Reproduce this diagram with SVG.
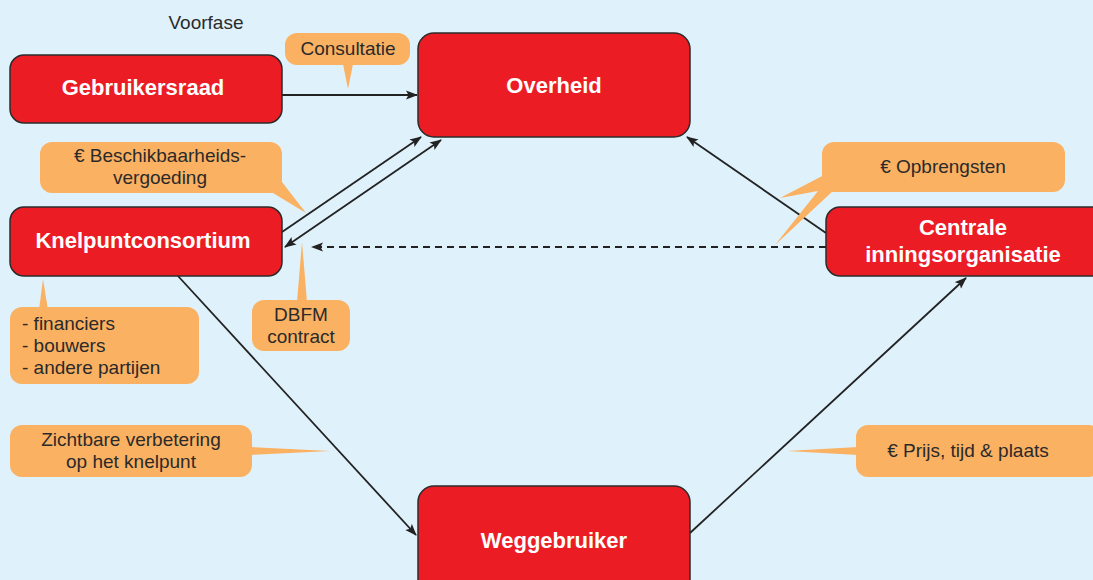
<svg xmlns="http://www.w3.org/2000/svg" width="1093" height="580" viewBox="0 0 1093 580">
<style>
.node{fill:#ec1c24;stroke:#2b2b2b;stroke-width:1.5}
.nt{font-family:"Liberation Sans",Arial,sans-serif;font-weight:bold;font-size:22px;fill:#fff;text-anchor:middle}
.co{fill:#fbb162}
.ct{font-family:"Liberation Sans",Arial,sans-serif;font-size:19px;fill:#2a2a2a;text-anchor:middle}
.lt{font-family:"Liberation Sans",Arial,sans-serif;font-size:19px;fill:#2a2a2a;text-anchor:start}
.ln{stroke:#222;stroke-width:1.8;fill:none;marker-end:url(#ah)}
</style>
<defs>
<marker id="ah" viewBox="0 0 12 10" refX="11" refY="5" markerWidth="12" markerHeight="10" markerUnits="userSpaceOnUse" orient="auto-start-reverse"><path d="M0,0.5 L12,5 L0,9.5 L2.5,5 Z" fill="#222"/></marker>
</defs>
<rect width="1093" height="580" fill="#dff2fc"/>
<text x="206" y="29" class="ct">Voorfase</text>

<g id="connectors">
<line class="ln" x1="282" y1="95" x2="417" y2="95"/>
<line class="ln" x1="282" y1="232" x2="421" y2="137"/>
<line class="ln" x1="441" y1="140" x2="285" y2="247" marker-start="url(#ah)"/>
<line class="ln" x1="826" y1="233" x2="687" y2="137"/>
<line class="ln" x1="826" y1="247" x2="312" y2="247" stroke-dasharray="7,5"/>
<line class="ln" x1="178" y1="276" x2="416" y2="535"/>
<line class="ln" x1="690" y1="533" x2="966" y2="278"/>
</g>

<g id="callouts">
<g id="c-consultatie">
<polygon class="co" points="343,64 353,64 348,89"/>
<rect class="co" x="285" y="33" width="125" height="32" rx="12"/>
<text class="ct" x="348" y="55">Consultatie</text>
</g>
<g id="c-beschikbaarheid">
<polygon class="co" points="268,190 282,182 306,213"/>
<rect class="co" x="40" y="142" width="242" height="51" rx="12"/>
<text class="ct" x="160" y="162">€ Beschikbaarheids-</text>
<text class="ct" x="160" y="184">vergoeding</text>
</g>
<g id="c-partijen">
<polygon class="co" points="39,310 48,310 43,279"/>
<rect class="co" x="10" y="307" width="189" height="77" rx="12"/>
<text class="lt" x="22" y="330">- financiers</text>
<text class="lt" x="22" y="352">- bouwers</text>
<text class="lt" x="22" y="374">- andere partijen</text>
</g>
<g id="c-dbfm">
<polygon class="co" points="297,302 307,302 302,242"/>
<rect class="co" x="252" y="300" width="98" height="51" rx="12"/>
<text class="ct" x="301" y="321">DBFM</text>
<text class="ct" x="301" y="343">contract</text>
</g>
<g id="c-opbrengsten">
<polygon class="co" points="826,174 780,198 818,191 775,245 834,190"/>
<rect class="co" x="822" y="142" width="243" height="50" rx="12"/>
<text class="ct" x="943" y="173">€ Opbrengsten</text>
</g>
<g id="c-zichtbaar">
<polygon class="co" points="250,447 250,455 330,451"/>
<rect class="co" x="10" y="425" width="242" height="52" rx="12"/>
<text class="ct" x="131" y="446">Zichtbare verbetering</text>
<text class="ct" x="131" y="468">op het knelpunt</text>
</g>
<g id="c-prijs">
<polygon class="co" points="858,447 858,455 787,451"/>
<rect class="co" x="856" y="425" width="245" height="52" rx="12"/>
<text class="ct" x="968" y="457">€ Prijs, tijd &amp; plaats</text>
</g>
</g>

<g id="gebruikersraad">
<rect class="node" x="10" y="55" width="272" height="68" rx="14"/>
<text class="nt" x="143" y="95">Gebruikersraad</text>
</g>
<g id="overheid">
<rect class="node" x="418" y="33" width="272" height="104" rx="16"/>
<text class="nt" x="554" y="93">Overheid</text>
</g>
<g id="knelpuntconsortium">
<rect class="node" x="10" y="207" width="272" height="69" rx="14"/>
<text class="nt" x="143" y="248">Knelpuntconsortium</text>
</g>
<g id="centrale">
<rect class="node" x="826" y="207" width="280" height="69" rx="14"/>
<text class="nt" x="963" y="235">Centrale</text>
<text class="nt" x="963" y="262">inningsorganisatie</text>
</g>
<g id="weggebruiker">
<rect class="node" x="418" y="486" width="272" height="110" rx="16"/>
<text class="nt" x="554" y="548">Weggebruiker</text>
</g>
</svg>
